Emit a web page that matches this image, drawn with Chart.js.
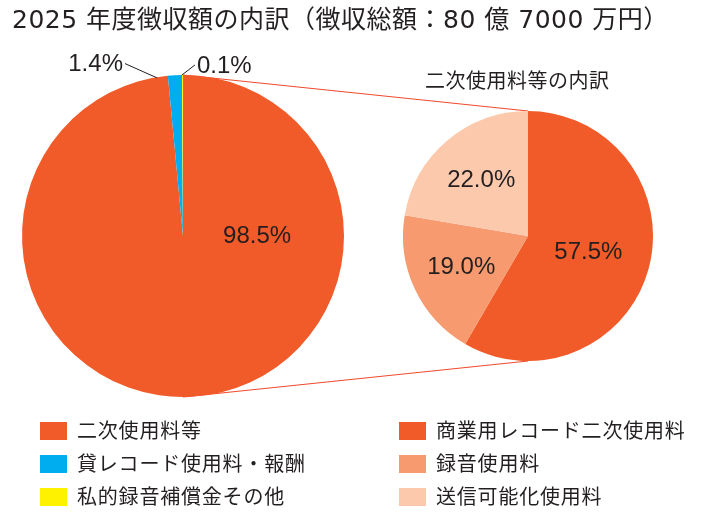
<!DOCTYPE html>
<html lang="ja">
<head>
<meta charset="utf-8">
<script src="https://cdn.jsdelivr.net/npm/chart.js@4.4.1/dist/chart.umd.min.js"></script>
<style>
  body { margin: 0; background: #fff; }
  #wrap { position: relative; width: 702px; height: 523px; overflow: hidden;
          font-family: 'Liberation Sans', 'Noto Sans CJK JP', sans-serif; color: #231F20; }
  canvas { position: absolute; left: 0; top: 0; }
  #chartSub { z-index: 1; }
  #chartMain { z-index: 2; }
  .txt { position: absolute; z-index: 3; white-space: nowrap; line-height: 1; }
  #title { left: 12px; top: 7px; font-size: 25px; letter-spacing: 0.5px; font-family: 'DejaVu Sans', 'Noto Sans CJK JP', sans-serif; }
  #subTitle { left: 425px; top: 71px; font-size: 20px; letter-spacing: 0.5px; }
  .legend-item { position: absolute; z-index: 3; height: 18px; white-space: nowrap; }
  .legend-item span.box { position: absolute; left: 0; top: 0; width: 27px; height: 18px; }
  .legend-item span.lbl { position: absolute; left: 37px; top: -2px; font-size: 20px; line-height: 22px; letter-spacing: 0.8px; }
</style>
</head>
<body>
<div id="wrap">
  <div id="title" class="txt">2025 年度徴収額の内訳（徴収総額：80 億 7000 万円）</div>
  <div id="subTitle" class="txt">二次使用料等の内訳</div>
  <canvas id="chartSub" width="702" height="523"></canvas>
  <canvas id="chartMain" width="702" height="523"></canvas>
</div>
<script>
// 徴収額の内訳 (%)
const mainLabels = ['二次使用料等', '貸レコード使用料・報酬', '私的録音補償金その他'];
const mainValues = [98.5, 1.4, 0.1];
const mainColors = ['#F15A29', '#00AEEF', '#FFF200'];

// 二次使用料等の内訳 (%)
const subLabels = ['商業用レコード二次使用料', '録音使用料', '送信可能化使用料'];
const subValues = [57.5, 19.0, 22.0];
const subColors = ['#F15A29', '#F79A6F', '#FDC9AC'];

const labelFont = "24px 'Liberation Sans', 'Noto Sans CJK JP', sans-serif";
const textColor = '#231F20';

// angle measured clockwise from 12 o'clock, in degrees
function polar(arc, deg, ratio) {
  const a = (deg - 90) * Math.PI / 180;
  return { x: arc.x + Math.cos(a) * arc.outerRadius * ratio,
           y: arc.y + Math.sin(a) * arc.outerRadius * ratio };
}

// percent labels, placed per slice
const pctLabels = {
  id: 'pctLabels',
  afterDatasetsDraw(chart, args, opts) {
    const ctx = chart.ctx;
    const meta = chart.getDatasetMeta(0);
    const values = chart.data.datasets[0].data;
    ctx.save();
    ctx.font = labelFont;
    ctx.fillStyle = textColor;
    ctx.strokeStyle = textColor;
    ctx.lineWidth = 1;
    ctx.textBaseline = 'middle';
    meta.data.forEach((arc, i) => {
      const p = opts.place[i];
      const text = values[i].toFixed(1) + '%';
      const mid = ((arc.startAngle + arc.endAngle) / 2 + Math.PI / 2) * 180 / Math.PI;
      if (p.leader) {
        const a = polar(arc, p.leader[0], p.leader[1]);
        const b = polar(arc, p.leader[2], p.leader[3]);
        ctx.beginPath();
        ctx.moveTo(a.x, a.y);
        ctx.lineTo(b.x, b.y);
        ctx.stroke();
        ctx.textAlign = p.align;
        ctx.fillText(text, b.x + (p.align === 'right' ? -2 : 2), b.y + 1);
      } else {
        const pt = polar(arc, p.angle != null ? p.angle : mid, p.ratio);
        ctx.textAlign = 'center';
        ctx.fillText(text, pt.x, pt.y);
      }
    });
    ctx.restore();
  }
};

const ctx_main = document.getElementById('chartMain');

const mainChart = new Chart(ctx_main, {
  type: 'pie',
  data: {
    labels: mainLabels,
    datasets: [{
      data: mainValues,
      backgroundColor: mainColors,
      borderWidth: 0
    }]
  },
  options: {
    responsive: false,
    animation: false,
    events: [],
    layout: { padding: { left: 22, right: 358, top: 75, bottom: 126 } },
    plugins: {
      legend: { display: false },
      tooltip: { enabled: false },
      pctLabels: {
        place: [
          { angle: 90, ratio: 0.46 },
          { leader: [350.7, 0.995, 341.4, 1.13], align: 'right' },
          { leader: [359.6, 1.0, 4.0, 1.065], align: 'left' }
        ]
      }
    }
  },
  plugins: [pctLabels]
});

// lines joining the two pies, drawn under both
const joinLines = {
  id: 'joinLines',
  beforeDatasetsDraw(chart) {
    const big = mainChart.getDatasetMeta(0).data[0];
    const small = chart.getDatasetMeta(0).data[0];
    const ctx = chart.ctx;
    ctx.save();
    ctx.strokeStyle = '#EF4A2C';
    ctx.lineWidth = 1.2;
    ctx.beginPath();
    ctx.moveTo(big.x, big.y - big.outerRadius);
    ctx.lineTo(small.x, small.y - small.outerRadius);
    ctx.moveTo(big.x, big.y + big.outerRadius);
    ctx.lineTo(small.x, small.y + small.outerRadius);
    ctx.stroke();
    ctx.restore();
  }
};

const ctx_sub = document.getElementById('chartSub');

new Chart(ctx_sub, {
  type: 'pie',
  data: {
    labels: subLabels,
    datasets: [{
      data: subValues,
      backgroundColor: subColors,
      borderWidth: 0
    }]
  },
  options: {
    responsive: false,
    animation: false,
    events: [],
    layout: { padding: { left: 403, right: 49, top: 111, bottom: 162 } },
    plugins: {
      legend: { display: false },
      tooltip: { enabled: false },
      pctLabels: {
        place: [
          { ratio: 0.5 },
          { ratio: 0.59 },
          { ratio: 0.58 }
        ]
      }
    }
  },
  plugins: [joinLines, pctLabels]
});

// legend, two columns
const wrap = document.getElementById('wrap');
function addLegend(labels, colors, left) {
  labels.forEach((lab, i) => {
    const item = document.createElement('div');
    item.className = 'legend-item';
    item.style.left = left + 'px';
    item.style.top = (422 + i * 33) + 'px';
    item.innerHTML = '<span class="box" style="background:' + colors[i] + '"></span>' +
                     '<span class="lbl">' + lab + '</span>';
    wrap.appendChild(item);
  });
}
addLegend(mainLabels, mainColors, 40);
addLegend(subLabels, subColors, 399);
</script>
</body>
</html>
